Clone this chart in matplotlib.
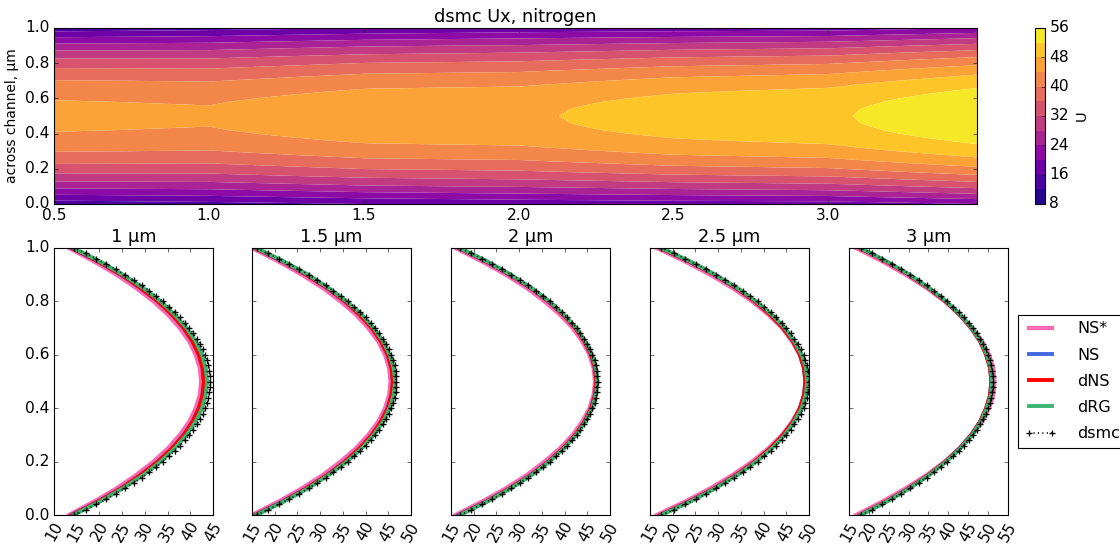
import numpy as np
import matplotlib
matplotlib.use('Agg')
import matplotlib.pyplot as plt

plt.style.use('classic')
plt.rcParams['xtick.labelsize'] = 14
plt.rcParams['ytick.labelsize'] = 14
plt.rcParams['axes.titlesize'] = 16

# --- data -------------------------------------------------------------
# velocity profiles are symmetric, so only wall -> centreline is stored
y_cell = np.arange(0.0, 0.501, 0.02)    # dsmc cells, 26 points
y_mod = np.arange(0.0, 0.501, 0.05)     # model grid, 11 points

# dsmc Ux along the channel (for the map) at these x stations
x_field = [0.5, 1.0, 1.5, 2.0, 2.5, 3.0, 3.48]
dsmc_05 = [13.5, 16.1, 18.5, 20.9, 23.1, 25.2, 27.2, 29.1, 30.8, 32.5, 34.0, 35.5, 36.8,
           38.0, 39.1, 40.2, 41.1, 41.9, 42.6, 43.3, 43.8, 44.2, 44.6, 44.8, 44.9, 45.0]
dsmc_10 = [14.5, 17.0, 19.3, 21.5, 23.6, 25.6, 27.5, 29.3, 31.0, 32.5, 34.0, 35.3, 36.6,
           37.8, 38.8, 39.8, 40.7, 41.5, 42.2, 42.8, 43.3, 43.7, 44.0, 44.2, 44.3, 44.4]
dsmc_15 = [16.0, 18.5, 20.9, 23.2, 25.4, 27.5, 29.4, 31.2, 32.9, 34.6, 36.1, 37.5, 38.8,
           40.0, 41.1, 42.1, 43.0, 43.8, 44.5, 45.1, 45.6, 46.1, 46.4, 46.6, 46.7, 46.8]
dsmc_20 = [17.0, 19.5, 21.8, 24.1, 26.2, 28.3, 30.2, 32.0, 33.7, 35.3, 36.8, 38.1, 39.4,
           40.6, 41.7, 42.7, 43.5, 44.3, 45.0, 45.6, 46.1, 46.6, 46.9, 47.1, 47.2, 47.3]
dsmc_25 = [17.5, 20.2, 22.7, 25.1, 27.4, 29.6, 31.6, 33.6, 35.4, 37.1, 38.7, 40.2, 41.6,
           42.8, 44.0, 45.0, 46.0, 46.8, 47.6, 48.2, 48.8, 49.2, 49.5, 49.8, 49.9, 50.0]
dsmc_30 = [18.0, 20.7, 23.3, 25.8, 28.2, 30.4, 32.5, 34.5, 36.3, 38.1, 39.7, 41.2, 42.6,
           43.9, 45.1, 46.2, 47.2, 48.0, 48.8, 49.5, 50.0, 50.5, 50.8, 51.1, 51.2, 51.3]
dsmc_35 = [20.0, 22.9, 25.7, 28.3, 30.8, 33.2, 35.4, 37.5, 39.5, 41.4, 43.1, 44.7, 46.3,
           47.7, 48.9, 50.1, 51.1, 52.0, 52.8, 53.5, 54.2, 54.6, 55.0, 55.3, 55.4, 55.5]
dsmc_field = [dsmc_05, dsmc_10, dsmc_15, dsmc_20, dsmc_25, dsmc_30, dsmc_35]

# profile stations shown in the lower row
stations = ['1 µm', '1.5 µm', '2 µm', '2.5 µm', '3 µm']
dsmc_prof = [dsmc_10, dsmc_15, dsmc_20, dsmc_25, dsmc_30]
xlims = [(10, 45), (15, 50), (15, 50), (15, 50), (15, 55)]

ns_star = [[13.3, 18.8, 23.8, 28.1, 31.9, 35.1, 37.7, 39.8, 41.2, 42.1, 42.4],
           [15.0, 20.8, 26.0, 30.6, 34.5, 37.9, 40.6, 42.8, 44.3, 45.2, 45.5],
           [16.0, 21.8, 27.1, 31.7, 35.6, 39.0, 41.8, 43.9, 45.5, 46.4, 46.7],
           [16.5, 22.7, 28.3, 33.2, 37.5, 41.1, 44.1, 46.3, 48.0, 49.0, 49.3],
           [16.8, 23.4, 29.3, 34.6, 39.1, 42.9, 46.0, 48.5, 50.2, 51.3, 51.6]]
ns = [[13.8, 19.6, 24.7, 29.0, 32.8, 36.0, 38.5, 40.5, 41.9, 42.7, 43.0],
      [15.6, 21.6, 26.9, 31.5, 35.4, 38.7, 41.4, 43.4, 44.8, 45.7, 46.0],
      [16.6, 22.6, 27.9, 32.5, 36.4, 39.7, 42.4, 44.4, 45.8, 46.7, 47.0],
      [17.2, 23.5, 29.1, 33.9, 38.1, 41.5, 44.3, 46.5, 48.0, 48.9, 49.2],
      [17.7, 24.3, 30.0, 35.0, 39.3, 42.8, 45.7, 48.0, 49.5, 50.5, 50.8]]
dns = [[14.0, 19.7, 24.8, 29.1, 32.9, 36.0, 38.6, 40.5, 41.9, 42.7, 43.0],
       [15.8, 21.8, 27.0, 31.6, 35.5, 38.7, 41.4, 43.4, 44.9, 45.7, 46.0],
       [16.8, 22.8, 28.0, 32.6, 36.5, 39.7, 42.4, 44.4, 45.9, 46.7, 47.0],
       [17.3, 23.6, 29.2, 34.0, 38.1, 41.5, 44.3, 46.5, 48.0, 48.9, 49.2],
       [17.8, 24.3, 30.1, 35.0, 39.3, 42.9, 45.8, 48.0, 49.5, 50.5, 50.8]]
drg = [[14.3, 20.1, 25.2, 29.7, 33.5, 36.6, 39.2, 41.2, 42.6, 43.4, 43.7],
       [16.0, 22.0, 27.4, 31.9, 35.9, 39.2, 41.8, 43.9, 45.3, 46.2, 46.5],
       [17.0, 23.0, 28.2, 32.8, 36.7, 39.9, 42.6, 44.6, 46.1, 46.9, 47.2],
       [17.5, 23.9, 29.4, 34.3, 38.4, 41.9, 44.7, 46.8, 48.4, 49.3, 49.6],
       [18.0, 24.5, 30.3, 35.2, 39.5, 43.1, 46.0, 48.2, 49.7, 50.7, 51.0]]

levels = np.arange(8, 57, 4)


def mirror_y(yh):
    yh = np.asarray(yh)
    return np.concatenate([yh, 1.0 - yh[-2::-1]])


def mirror_u(uh):
    uh = np.asarray(uh)
    return np.concatenate([uh, uh[-2::-1]])


y_dsmc = mirror_y(y_cell)
y_model = mirror_y(y_mod)

W, H = 1120, 546
fig = plt.figure(figsize=(W / 80.0, H / 80.0), dpi=80, facecolor='white')


def box(l, t, r, b):
    return [l / W, 1 - b / H, (r - l) / W, (b - t) / H]


# --- top: dsmc velocity map -------------------------------------------
ax0 = fig.add_axes(box(54, 28, 977, 204))
U = np.array([mirror_u(p) for p in dsmc_field])
cs = ax0.contourf(x_field, y_dsmc, U.T, levels=levels, cmap='plasma', antialiased=True)
ax0.set_xlim(x_field[0], x_field[-1])
ax0.set_ylim(0, 1)
ax0.set_xticks([0.5, 1.0, 1.5, 2.0, 2.5, 3.0])
ax0.set_yticks(np.arange(0, 1.01, 0.2))
ax0.set_title('dsmc Ux, nitrogen')
ax0.set_ylabel('across channel, µm', fontsize=12.5)

cax = fig.add_axes(box(1035, 28, 1045, 204))
cb = fig.colorbar(cs, cax=cax, ticks=np.arange(8, 57, 8))
cb.ax.tick_params(labelsize=14)
cb.set_label('U', fontsize=13)

# --- bottom: profiles at several stations -----------------------------
lefts = [54, 252, 451, 650, 849]
axes = []
for i, st in enumerate(stations):
    ax = fig.add_axes(box(lefts[i], 248, lefts[i] + 159, 515))
    ax.plot(mirror_u(ns_star[i]), y_model, color='hotpink', lw=3.8, label='NS*')
    ax.plot(mirror_u(ns[i]), y_model, color='royalblue', lw=3.5, label='NS')
    ax.plot(mirror_u(dns[i]), y_model, color='red', lw=3.5, label='dNS')
    ax.plot(mirror_u(drg[i]), y_model, color='mediumseagreen', lw=3.5, label='dRG')
    ax.plot(mirror_u(dsmc_prof[i]), y_dsmc, 'k+:', ms=5, mew=1.2, lw=1.5, label='dsmc')
    ax.set_xlim(*xlims[i])
    ax.set_ylim(0, 1)
    ax.set_xticks(np.arange(xlims[i][0], xlims[i][1] + 1, 5))
    ax.set_yticks(np.arange(0, 1.01, 0.2))
    ax.tick_params(axis='x', labelrotation=60)
    ax.set_title(st)
    if i > 0:
        ax.set_yticklabels([])
    axes.append(ax)

axes[-1].legend(loc='upper left', bbox_to_anchor=(1018 / W, 1 - 315 / H),
                bbox_transform=fig.transFigure, borderaxespad=0,
                handletextpad=1.3, labelspacing=0.7)

fig.savefig('out.png', dpi=80, facecolor='white')
